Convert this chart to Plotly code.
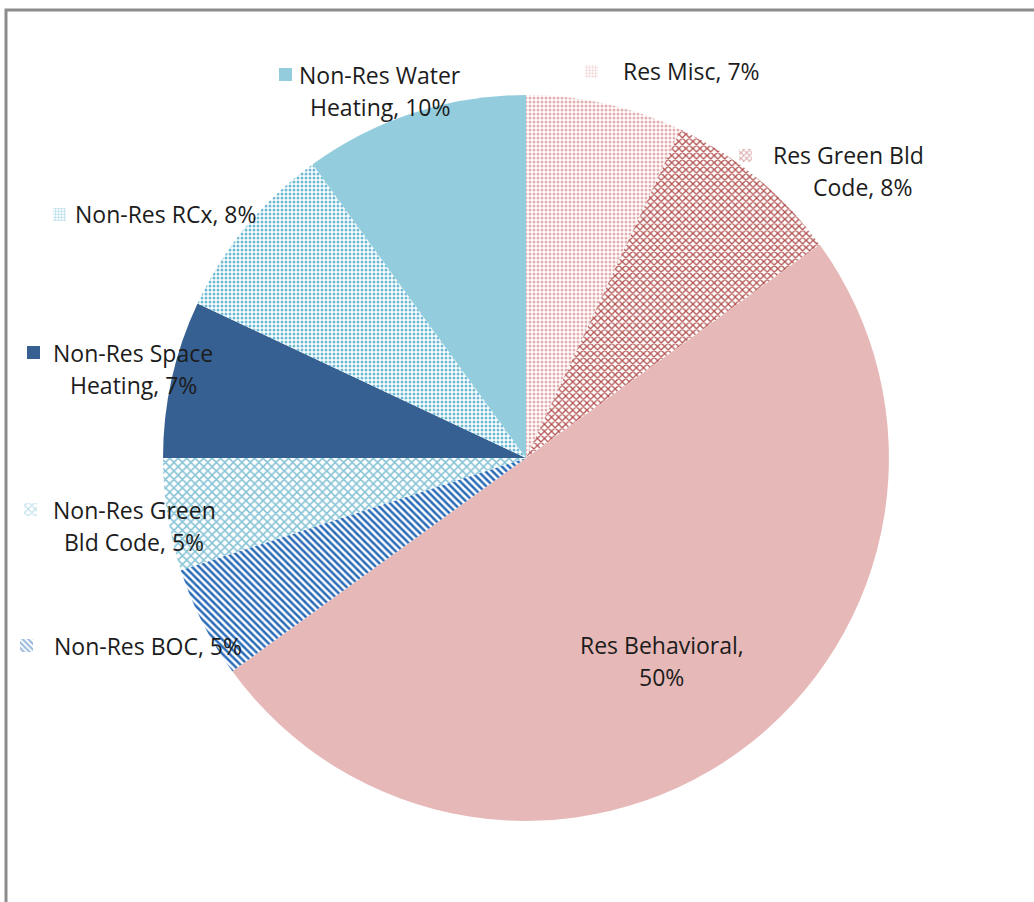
import plotly.graph_objects as go

W, H = 1034, 902

# Savings share by program (clockwise from 12 o'clock)
labels = ["Res Misc", "Res Green Bld Code", "Res Behavioral", "Non-Res BOC",
          "Non-Res Green Bld Code", "Non-Res Space Heating", "Non-Res RCx",
          "Non-Res Water Heating"]
shares = [7, 8, 50, 5, 5, 7, 8, 10]

# Fill style for each slice
fg_colors = ["#E3AFAE", "#B2504E", "#E6B9B8", "#2B6CB8",
             "#86C3D6", "#376092", "#6DBBD2", "#93CDDD"]
bg_colors = ["white", "white", "#E6B9B8", "white",
             "white", "#376092", "white", "#93CDDD"]
shapes_ = [".", "x", "", "\\", "x", "", ".", ""]
p_size = [4, 5, 8, 5, 6, 8, 4, 8]
p_solid = [0.45, 0.45, 0.3, 0.5, 0.45, 0.3, 0.45, 0.3]

# Data-label text lines and their placement (pixel centres), key position
label_lines = [
    ["Res Misc, 7%"],
    ["Res Green Bld", "Code, 8%"],
    ["Res Behavioral,", "50%"],
    ["Non-Res BOC, 5%"],
    ["Non-Res Green", "Bld Code, 5%"],
    ["Non-Res Space", "Heating, 7%"],
    ["Non-Res RCx, 8%"],
    ["Non-Res Water", "Heating, 10%"],
]
line_pos = [
    [(691, 71)],
    [(848, 155), (862, 187)],
    [(662, 645), (661, 677)],
    [(148, 646)],
    [(134, 510), (134, 542)],
    [(133, 353), (133, 385)],
    [(166, 214)],
    [(380, 75), (380, 107)],
]
key_pos = [(601, 71), (752, 155), None, (30, 645), (30, 509), (30, 352),
           (53, 214), (276, 74)]
KEY = 13

cx, cy, r = 526, 458, 363

fig = go.Figure()
fig.add_trace(go.Pie(
    labels=labels, values=shares, sort=False, direction="clockwise",
    rotation=0, textinfo="none", hoverinfo="label+percent",
    showlegend=False,
    domain=dict(x=[(cx - r) / W, (cx + r) / W],
                y=[1 - (cy + r) / H, 1 - (cy - r) / H]),
    marker=dict(colors=bg_colors, line=dict(width=0),
                pattern=dict(shape=shapes_, fgcolor=fg_colors,
                             bgcolor=bg_colors, size=p_size,
                             solidity=p_solid, fillmode="replace")),
))

# Legend keys next to the labels, drawn as tiny patterned bars
for i, kp in enumerate(key_pos):
    if kp is None:
        continue
    kx, ky = kp
    fig.add_trace(go.Bar(
        x=[kx], y=[KEY], base=[ky - KEY / 2], width=[KEY],
        xaxis="x", yaxis="y", showlegend=False, hoverinfo="skip",
        marker=dict(color=bg_colors[i], line=dict(width=0),
                    pattern=dict(shape=shapes_[i], fgcolor=fg_colors[i],
                                 bgcolor=bg_colors[i], size=max(3, p_size[i] - 1),
                                 solidity=p_solid[i])),
    ))

annotations = []
for lines, poss in zip(label_lines, line_pos):
    for t, (x, y) in zip(lines, poss):
        annotations.append(dict(
            text=t, x=x / W, y=1 - y / H, xref="paper", yref="paper",
            xanchor="center", yanchor="middle", showarrow=False,
            font=dict(family="Open Sans", size=23, color="#1c1c1c")))

fig.update_layout(
    width=W, height=H, margin=dict(l=0, r=0, t=0, b=0),
    paper_bgcolor="white", plot_bgcolor="rgba(0,0,0,0)",
    xaxis=dict(range=[0, W], visible=False, domain=[0, 1], fixedrange=True),
    yaxis=dict(range=[H, 0], visible=False, domain=[0, 1], fixedrange=True),
    bargap=0, annotations=annotations,
    shapes=[dict(type="rect", xref="paper", yref="paper",
                 x0=6 / W, x1=1.05, y0=-0.05, y1=1 - 10 / H,
                 line=dict(color="#8c8c8c", width=3), layer="above")],
)

fig.write_html("out.html")
